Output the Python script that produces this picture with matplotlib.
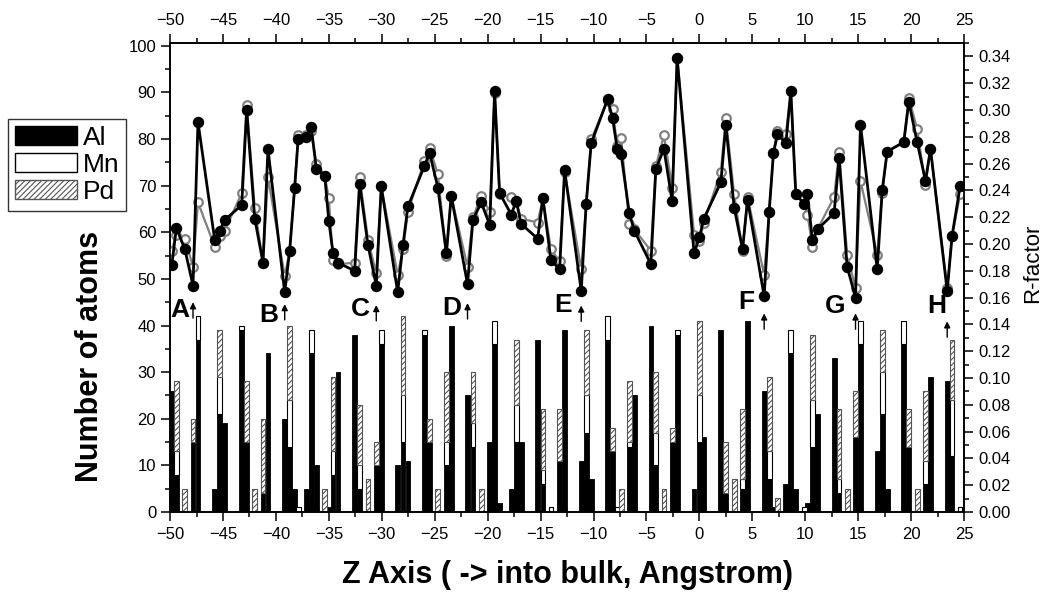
import numpy as np
import matplotlib
matplotlib.use("Agg")
import matplotlib.pyplot as plt
from matplotlib.patches import Patch
from matplotlib.ticker import MultipleLocator, FormatStrFormatter

plt.rcParams['font.family'] = ['Liberation Sans', 'DejaVu Sans']
plt.rcParams['hatch.linewidth'] = 0.8

# layer positions along z (Angstrom)
z = [-49.84, -49.40, -48.60, -47.83, -47.36, -45.78, -45.31, -44.83, -43.23, -42.76,
     -42.00, -41.22, -40.75, -39.17, -38.70, -38.23, -37.90, -37.14, -36.66, -36.18,
     -35.39, -35.00, -34.60, -34.13, -32.56, -32.09, -31.30, -30.52, -30.05, -28.50,
     -28.00, -27.53, -25.98, -25.48, -24.70, -23.90, -23.44, -21.90, -21.39, -20.60,
     -19.80, -19.34, -18.87, -17.77, -17.30, -16.83, -15.28, -14.78, -14.02, -13.20,
     -12.73, -11.16, -10.69, -10.22, -8.67, -8.20, -7.76, -7.39, -6.62, -6.15,
     -4.58, -4.11, -3.35, -2.57, -2.10, -0.50, 0.00, 0.43, 2.03, 2.50,
     3.29, 4.08, 4.55, 6.12, 6.59, 7.00, 7.38, 8.17, 8.64, 9.11,
     9.90, 10.21, 10.68, 11.16, 12.73, 13.20, 13.96, 14.75, 15.22, 16.80,
     17.27, 17.74, 19.31, 19.78, 20.57, 21.36, 21.83, 23.41, 23.87, 24.63]

al = [26, 8, 0, 15, 37, 5, 21, 19, 39, 15,
      0, 4, 34, 20, 14, 5, 0, 5, 34, 10,
      0, 1, 8, 30, 38, 5, 0, 10, 36, 10,
      15, 11, 38, 15, 0, 10, 40, 25, 14, 0,
      15, 36, 2, 5, 15, 15, 37, 6, 0, 11,
      39, 11, 17, 7, 37, 13, 0, 0, 14, 25,
      40, 10, 0, 15, 38, 5, 15, 16, 39, 4,
      0, 5, 41, 26, 7, 1, 0, 6, 34, 5,
      0, 2, 14, 21, 33, 4, 0, 16, 36, 13,
      21, 5, 36, 14, 0, 6, 29, 28, 12, 0]

mn = [0, 5, 0, 0, 5, 0, 8, 0, 1, 0,
      0, 0, 0, 0, 10, 0, 1, 0, 5, 0,
      0, 0, 5, 0, 0, 5, 0, 0, 3, 0,
      10, 0, 1, 0, 0, 5, 0, 0, 5, 0,
      0, 5, 0, 0, 8, 0, 0, 3, 1, 0,
      0, 0, 8, 0, 5, 0, 1, 0, 1, 0,
      0, 7, 0, 0, 1, 0, 10, 0, 0, 0,
      0, 2, 0, 0, 6, 0, 0, 0, 5, 0,
      1, 0, 10, 0, 0, 3, 0, 0, 5, 0,
      9, 0, 5, 0, 0, 5, 0, 0, 12, 1]

pd_ = [0, 15, 5, 5, 0, 0, 10, 0, 0, 13,
       5, 16, 0, 0, 16, 0, 0, 0, 0, 0,
       5, 0, 16, 0, 0, 13, 7, 5, 0, 0,
       17, 0, 0, 5, 5, 15, 0, 0, 11, 5,
       0, 0, 0, 0, 14, 0, 0, 13, 0, 11,
       0, 0, 14, 0, 0, 5, 0, 5, 13, 0,
       0, 13, 5, 3, 0, 0, 16, 0, 0, 11,
       7, 15, 0, 0, 16, 0, 3, 0, 0, 0,
       0, 0, 14, 0, 0, 15, 5, 10, 0, 0,
       9, 0, 0, 8, 5, 15, 0, 0, 13, 0]

# R-factor curves
r_black = [0.184, 0.212, 0.196, 0.169, 0.291, 0.203, 0.210, 0.218, 0.229, 0.300,
           0.219, 0.186, 0.271, 0.164, 0.195, 0.242, 0.278, 0.280, 0.287, 0.256,
           0.251, 0.217, 0.193, 0.186, 0.180, 0.245, 0.199, 0.169, 0.243, 0.164,
           0.199, 0.228, 0.258, 0.268, 0.242, 0.193, 0.236, 0.170, 0.218, 0.231,
           0.214, 0.314, 0.238, 0.222, 0.232, 0.215, 0.204, 0.234, 0.188, 0.181,
           0.255, 0.165, 0.230, 0.275, 0.308, 0.294, 0.271, 0.267, 0.223, 0.210,
           0.185, 0.256, 0.271, 0.232, 0.339, 0.193, 0.205, 0.219, 0.246, 0.289,
           0.227, 0.196, 0.233, 0.161, 0.224, 0.268, 0.282, 0.275, 0.314, 0.237,
           0.230, 0.237, 0.203, 0.211, 0.223, 0.264, 0.183, 0.160, 0.289, 0.181,
           0.240, 0.269, 0.276, 0.306, 0.276, 0.247, 0.271, 0.165, 0.206, 0.243]

r_gray = [0.195, 0.207, 0.204, 0.183, 0.231, 0.198, 0.206, 0.210, 0.238, 0.304,
          0.227, 0.186, 0.250, 0.176, 0.195, 0.242, 0.281, 0.281, 0.284, 0.260,
          0.251, 0.234, 0.188, 0.185, 0.186, 0.250, 0.203, 0.178, 0.243, 0.177,
          0.196, 0.224, 0.262, 0.272, 0.252, 0.191, 0.236, 0.183, 0.220, 0.236,
          0.224, 0.313, 0.237, 0.235, 0.231, 0.219, 0.216, 0.234, 0.196, 0.187,
          0.254, 0.181, 0.230, 0.278, 0.307, 0.301, 0.273, 0.279, 0.215, 0.211,
          0.195, 0.258, 0.281, 0.242, 0.339, 0.207, 0.202, 0.216, 0.254, 0.294,
          0.237, 0.195, 0.235, 0.177, 0.224, 0.268, 0.284, 0.282, 0.314, 0.237,
          0.230, 0.222, 0.198, 0.211, 0.235, 0.269, 0.192, 0.167, 0.247, 0.192,
          0.238, 0.269, 0.276, 0.309, 0.286, 0.244, 0.271, 0.167, 0.206, 0.237]

# marked minima
labels = ['A', 'B', 'C', 'D', 'E', 'F', 'G', 'H']
label_idx = [3, 13, 27, 37, 51, 73, 87, 97]
label_x = [-49.1, -40.7, -32.0, -23.4, -12.9, 4.4, 12.8, 22.4]
label_y = [43.3, 42.2, 43.5, 43.8, 44.5, 45.0, 44.1, 44.1]
arrow_y0 = [41.0, 40.6, 40.4, 40.8, 40.3, 38.6, 38.6, 36.9]

z = np.array(z)
al = np.array(al)
mn = np.array(mn)
pd_ = np.array(pd_)

fig = plt.figure(figsize=(10.49, 5.96), dpi=100)
ax = fig.add_axes([0.1621, 0.1409, 0.7569, 0.787])
ax2 = ax.twinx()

w = 0.45
m = al > 0
ax.bar(z[m], al[m], w, color='black', edgecolor='black', linewidth=0.6)
m = mn > 0
ax.bar(z[m], mn[m], w, bottom=al[m], color='white', edgecolor='black', linewidth=0.8)
m = pd_ > 0
ax.bar(z[m], pd_[m], w, bottom=(al + mn)[m], color='white', edgecolor='#555555',
       hatch='//////', linewidth=0.8)

ax2.plot(z, r_gray, '-o', color='#808080', lw=1.6, ms=6.2, mfc='white',
         mec='#808080', mew=1.6)
ax2.plot(z, r_black, '-o', color='black', lw=2.0, ms=7.2, mfc='black', mec='black')

for lab, i, lx, ly, y0 in zip(labels, label_idx, label_x, label_y, arrow_y0):
    ax.text(lx, ly, lab, fontsize=19, fontweight='bold', ha='center', va='center')
    ax.annotate('', xy=(z[i], y0 + 4.6), xytext=(z[i], y0),
                arrowprops=dict(arrowstyle='-|>', color='black', lw=1.0,
                                mutation_scale=9))

ax.set_xlim(-50, 25)
ax.set_ylim(0, 100.6)
ax2.set_ylim(0, 0.35)

ax.xaxis.set_major_locator(MultipleLocator(5))
ax.xaxis.set_minor_locator(MultipleLocator(2.5))
ax.yaxis.set_major_locator(MultipleLocator(10))
ax.yaxis.set_minor_locator(MultipleLocator(5))
ax2.yaxis.set_major_locator(MultipleLocator(0.02))
ax2.yaxis.set_minor_locator(MultipleLocator(0.01))
ax2.yaxis.set_major_formatter(FormatStrFormatter('%.2f'))

ax.tick_params(axis='x', which='both', direction='out', top=True, labeltop=True,
               labelsize=12, width=1.1)
ax.tick_params(axis='x', which='major', pad=4)
ax.tick_params(axis='y', which='both', direction='out', labelsize=12, width=1.1)
ax2.tick_params(axis='y', which='both', direction='out', labelsize=12, width=1.1)
for a in (ax, ax2):
    a.tick_params(which='major', length=6.5)
    a.tick_params(which='minor', length=3.5)
    for s in a.spines.values():
        s.set_linewidth(1.2)

fig.text(90 / 1049, 1 - 356 / 596, 'Number of atoms', rotation=90, fontsize=22,
         fontweight='bold', ha='center', va='center')
fig.text(567 / 1049, 1 - 575 / 596, 'Z Axis ( -> into bulk, Angstrom)', fontsize=22,
         fontweight='bold', ha='center', va='center')
fig.text(1033 / 1049, 1 - 263 / 596, 'R-factor', rotation=90, fontsize=16,
         ha='center', va='center')

handles = [Patch(facecolor='black', edgecolor='black'),
           Patch(facecolor='white', edgecolor='black'),
           Patch(facecolor='white', edgecolor='#555555', hatch='//////')]
fig.legend(handles, ['Al', 'Mn', 'Pd'], loc='upper left',
           bbox_to_anchor=(8 / 1049, 1 - 119 / 596), borderaxespad=0,
           fontsize=19, frameon=True, fancybox=False, edgecolor='black',
           handlelength=2.35, handleheight=0.76, labelspacing=0.12,
           handletextpad=0.25, borderpad=0.25)

fig.savefig('out.png', dpi=100)
